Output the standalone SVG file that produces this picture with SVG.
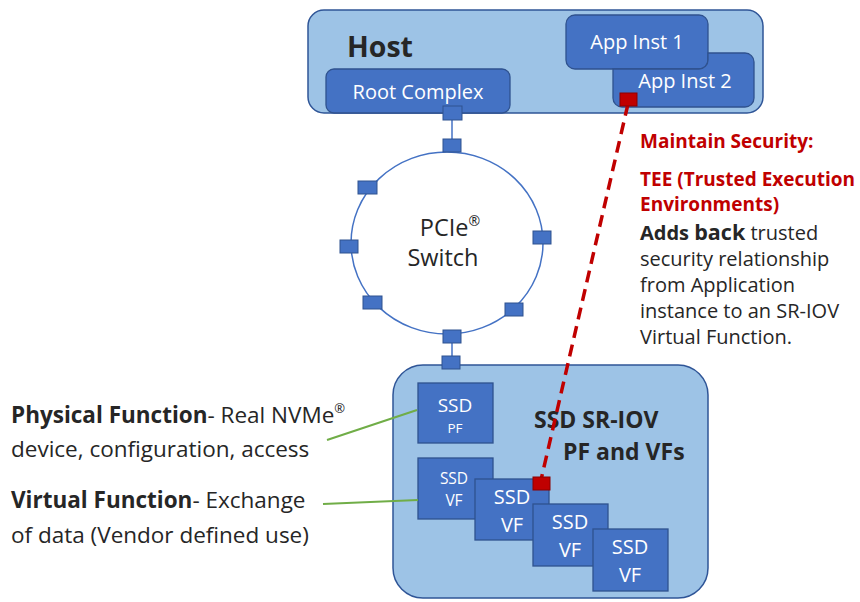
<svg xmlns="http://www.w3.org/2000/svg" width="860" height="602" viewBox="0 0 860 602">
<style>
  .outer { fill: #9DC3E6; stroke: #2F5597; stroke-width: 1.5; }
  .inner { fill: #4472C4; stroke: #2F528F; stroke-width: 1.3; }
  .port { fill: #4472C4; stroke: #2F528F; stroke-width: 1; }
  .wt { fill: #FFFFFF; font-family: "Open Sans", Lato, sans-serif; text-anchor: middle; }
  .bk { fill: #262626; font-family: "Open Sans", Lato, sans-serif; }
  .rd { fill: #C00000; font-family: "Open Sans", Lato, sans-serif; font-weight: bold; }
  .b { font-weight: bold; }
  .link { stroke: #4472C4; stroke-width: 1.5; fill: none; }
  .green { stroke: #70AD47; stroke-width: 2; fill: none; }
</style>
<rect width="860" height="602" fill="#FFFFFF"/>

<g id="host">
  <rect class="outer" x="308" y="10" width="455" height="103" rx="16"/>
  <text class="bk b" x="347" y="57" font-size="28.5">Host</text>
</g>
<g id="root-complex">
  <rect class="inner" x="326" y="69" width="184" height="44" rx="8"/>
  <text class="wt" x="418" y="99" font-size="20">Root Complex</text>
</g>
<g id="app-inst-1">
  <rect class="inner" x="566" y="15" width="142" height="54" rx="9"/>
  <text class="wt" x="637" y="49" font-size="20">App Inst 1</text>
</g>
<g id="app-inst-2">
  <path class="inner" d="M708,53 H745 A9,9 0 0 1 754,62 V98 A9,9 0 0 1 745,107 H622 A9,9 0 0 1 613,98 V69 H699 A9,9 0 0 0 708,60 Z"/>
  <text class="wt" x="685" y="88" font-size="20">App Inst 2</text>
</g>

<g id="pcie-switch">
  <ellipse cx="447" cy="243" rx="96" ry="91" fill="#FFFFFF" stroke="#4472C4" stroke-width="1.5"/>
  <text class="bk" x="450" y="236" font-size="23.5" text-anchor="middle">PCIe<tspan font-size="14" dy="-10">®</tspan></text>
  <text class="bk" x="443" y="266" font-size="23.5" text-anchor="middle">Switch</text>
</g>

<g id="ssd-sriov">
  <rect class="outer" x="393" y="365" width="315" height="233" rx="30"/>
  <text class="bk b" x="534" y="428" font-size="23">SSD SR-IOV</text>
  <text class="bk b" x="563" y="460" font-size="23">PF and VFs</text>
</g>
<g id="ssd-pf">
  <rect class="inner" x="418" y="383" width="75" height="60"/>
  <text class="wt" x="455" y="412" font-size="19">SSD</text>
  <text class="wt" x="455" y="433" font-size="13.5">PF</text>
</g>
<g id="ssd-vf-1">
  <rect class="inner" x="418" y="458" width="75" height="61"/>
  <text class="wt" x="454" y="484" font-size="15.5">SSD</text>
  <text class="wt" x="454" y="506" font-size="15.5">VF</text>
</g>
<g id="ssd-vf-2">
  <rect class="inner" x="475" y="479" width="74" height="61"/>
  <text class="wt" x="512" y="504" font-size="20">SSD</text>
  <text class="wt" x="512" y="532" font-size="20">VF</text>
</g>
<g id="ssd-vf-3">
  <rect class="inner" x="533" y="504" width="75" height="62"/>
  <text class="wt" x="570" y="529" font-size="20">SSD</text>
  <text class="wt" x="570" y="557" font-size="20">VF</text>
</g>
<g id="ssd-vf-4">
  <rect class="inner" x="593" y="529" width="75" height="62"/>
  <text class="wt" x="630" y="554" font-size="20">SSD</text>
  <text class="wt" x="630" y="582" font-size="20">VF</text>
</g>

<g id="connectors">
  <line class="link" x1="452" y1="120" x2="452" y2="139"/>
  <line class="link" x1="452" y1="343" x2="452" y2="356"/>
  <line class="green" x1="327" y1="440" x2="417" y2="410"/>
  <line class="green" x1="323" y1="504" x2="418" y2="500"/>
  <line x1="628" y1="104" x2="541" y2="480" stroke="#C00000" stroke-width="3.5" stroke-dasharray="12,7"/>
</g>

<g id="ports">
  <rect class="port" x="443" y="106" width="19" height="14"/>
  <rect class="port" x="443" y="139" width="18" height="13"/>
  <rect class="port" x="358" y="181" width="19" height="13"/>
  <rect class="port" x="340" y="240" width="18" height="13"/>
  <rect class="port" x="363" y="296" width="19" height="13"/>
  <rect class="port" x="533" y="231" width="18" height="13"/>
  <rect class="port" x="505" y="303" width="18" height="13"/>
  <rect class="port" x="443" y="330" width="18" height="13"/>
  <rect class="port" x="442" y="356" width="18" height="13"/>
  <rect x="620" y="93" width="17" height="13" fill="#C00000" stroke="#8B0000" stroke-width="1"/>
  <rect x="533" y="477" width="17" height="13" fill="#C00000" stroke="#8B0000" stroke-width="1"/>
</g>

<g id="security-note">
  <text class="rd" x="640" y="148" font-size="19">Maintain Security:</text>
  <text class="rd" x="640" y="186" font-size="19">TEE (Trusted Execution</text>
  <text class="rd" x="640" y="211" font-size="19">Environments)</text>
  <text class="bk" x="640" y="240" font-size="20"><tspan class="b">Adds </tspan><tspan class="b" font-size="21.5">back</tspan> trusted</text>
  <text class="bk" x="640" y="266" font-size="20">security relationship</text>
  <text class="bk" x="640" y="292" font-size="20">from Application</text>
  <text class="bk" x="640" y="318" font-size="20">instance to an SR-IOV</text>
  <text class="bk" x="640" y="344" font-size="20">Virtual Function.</text>
</g>

<g id="function-labels">
  <text class="bk" x="11" y="423" font-size="22.5"><tspan class="b">Physical Function</tspan>- Real NVMe<tspan font-size="13" dy="-10">®</tspan></text>
  <text class="bk" x="11" y="457" font-size="22.5">device, configuration, access</text>
  <text class="bk" x="11" y="508" font-size="22.5"><tspan class="b">Virtual Function</tspan>- Exchange</text>
  <text class="bk" x="11" y="543" font-size="22.5">of data (Vendor defined use)</text>
</g>
</svg>
